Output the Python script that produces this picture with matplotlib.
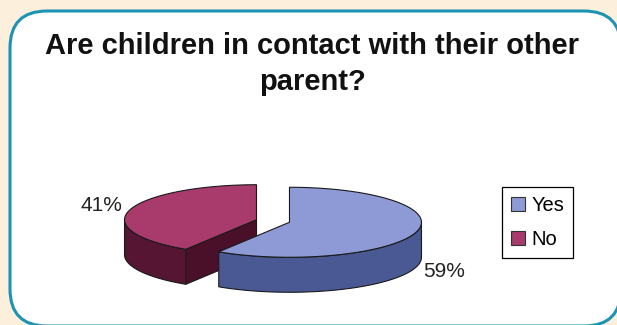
import numpy as np
import matplotlib.pyplot as plt
from matplotlib.patches import Polygon, FancyBboxPatch, Patch

# data
labels = ["Yes", "No"]
shares = [59, 41]
title = "Are children in contact with their other\nparent?"

# colours per slice
top_colors = ["#8E9AD6", "#A83A6C"]
side_colors = ["#4A5893", "#561532"]
cut_colors = ["#3F4C85", "#4A1029"]

W, H = 617, 325
fig = plt.figure(figsize=(W / 100, H / 100), dpi=100, facecolor="#FCEFDB")
ax = fig.add_axes([0, 0, 1, 1])
ax.set_xlim(0, W)
ax.set_ylim(H, 0)
ax.set_aspect("equal")
ax.axis("off")

# rounded white panel
panel = FancyBboxPatch((10, 11), 611, 315, boxstyle="round,pad=0,rounding_size=37",
                       facecolor="white", edgecolor="#1C93B2", linewidth=2.2)
ax.add_patch(panel)

ax.text(312, 64, title, ha="center", va="center", fontsize=21, fontweight="bold",
        family="Liberation Sans", color="#111111", linespacing=1.32)

# 3D pie geometry (pixel units)
cx, cy = 273, 221
rx, ry, depth = 132, 35, 35
explode = 0.13
edge = dict(edgecolor="#1a1a1a", linewidth=0.8)


def rim(ox, oy, a, dz=0.0):
    a = np.radians(a)
    return ox + rx * np.cos(a), oy - ry * np.sin(a) + dz


slices = []
start = 90.0
for lab, val, tc, sc, cc in zip(labels, shares, top_colors, side_colors, cut_colors):
    t1 = start
    t2 = start - val / sum(shares) * 360
    mid = np.radians((t1 + t2) / 2)
    ox = cx + explode * rx * np.cos(mid)
    oy = cy - explode * ry * np.sin(mid)
    slices.append((lab, val, t1, t2, mid, ox, oy, tc, sc, cc))
    start = t2

# back slices first
for lab, val, t1, t2, mid, ox, oy, tc, sc, cc in sorted(slices, key=lambda s: s[6]):
    # radial cut faces
    if np.cos(np.radians(t1)) < -1e-6:
        x1, y1 = rim(ox, oy, t1)
        ax.add_patch(Polygon([(ox, oy), (x1, y1), (x1, y1 + depth), (ox, oy + depth)],
                             facecolor=cc, **edge))
    if np.cos(np.radians(t2)) > 1e-6:
        x2, y2 = rim(ox, oy, t2)
        ax.add_patch(Polygon([(ox, oy), (x2, y2), (x2, y2 + depth), (ox, oy + depth)],
                             facecolor=cc, **edge))
    # outer wall (front half only)
    for k in (-1, 0, 1):
        lo, hi = max(t2, -180 + 360 * k), min(t1, 360 * k)
        if hi - lo > 0.5:
            a = np.linspace(lo, hi, 80)
            xs, ys = rim(ox, oy, a)
            pts = list(zip(xs, ys)) + list(zip(xs[::-1], ys[::-1] + depth))
            ax.add_patch(Polygon(pts, facecolor=sc, **edge))
    # top face
    a = np.linspace(t1, t2, 150)
    xs, ys = rim(ox, oy, a)
    ax.add_patch(Polygon([(ox, oy)] + list(zip(xs, ys)), facecolor=tc, **edge))

    lx = ox + 1.22 * rx * np.cos(mid)
    ly = oy - 1.5 * ry * np.sin(mid) + (depth if np.sin(mid) < 0 else 0)
    ax.text(lx, ly, f"{val}%", ha="center", va="center", fontsize=15,
            family="Liberation Sans", color="#222222")

handles = [Patch(facecolor=tc, edgecolor="#333333", linewidth=0.8, label=lab)
           for lab, tc in zip(labels, top_colors)]

leg = ax.legend(handles=handles, loc="upper left", bbox_to_anchor=(502 / W, 1 - 187 / H),
                frameon=True, fancybox=False, edgecolor="black", framealpha=1,
                prop=dict(family="Liberation Sans", size=14.5),
                handlelength=0.7, handleheight=0.7, handletextpad=0.3,
                labelspacing=0.75, borderpad=0.45, borderaxespad=0)
leg.get_frame().set_linewidth(0.9)

fig.savefig("out.png", dpi=100, facecolor=fig.get_facecolor())
